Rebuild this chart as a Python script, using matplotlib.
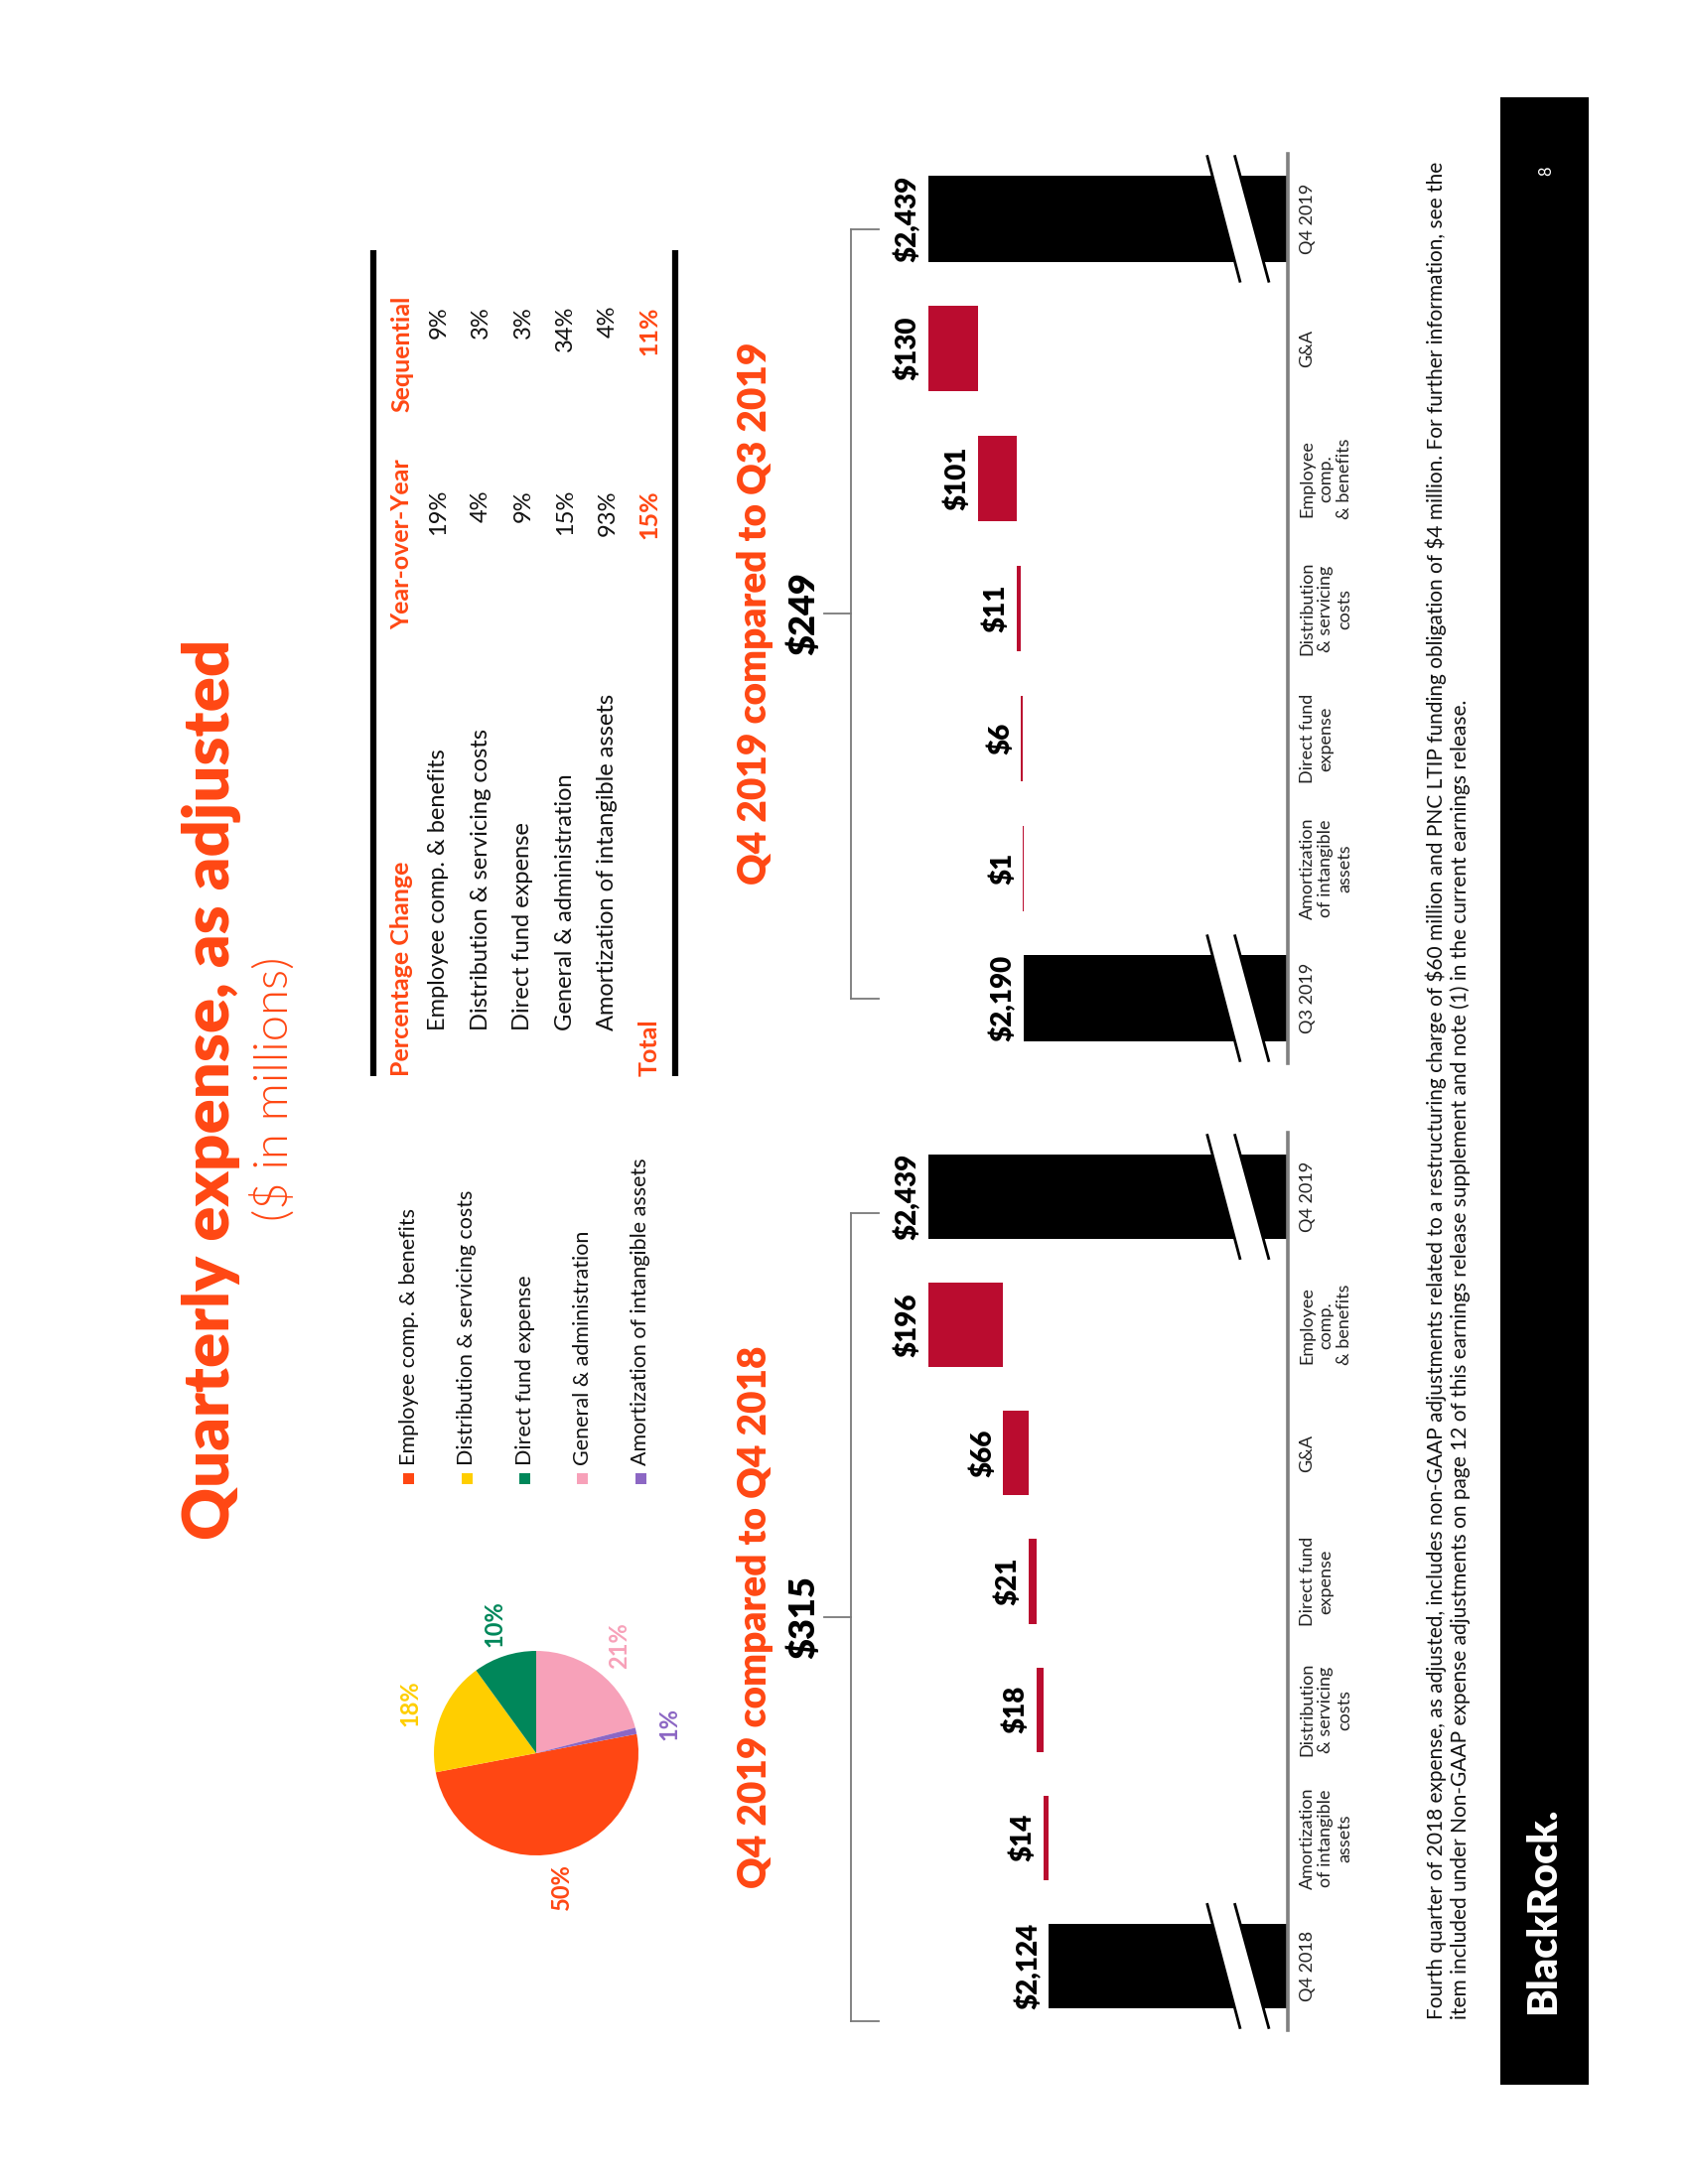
import numpy as np
import matplotlib
matplotlib.use("Agg")
import matplotlib.pyplot as plt
from matplotlib import font_manager
from matplotlib.patches import Rectangle, Polygon

installed = {f.name for f in font_manager.fontManager.ttflist}
BODY = "Lato" if "Lato" in installed else "DejaVu Sans"
plt.rcParams["font.family"] = [BODY, "DejaVu Sans"]

ORANGE = "#FF4713"
RED = "#BA0C2F"
GREY = "#808080"

# ---- data ----
categories = ["Employee comp. & benefits", "Distribution & servicing costs",
              "Direct fund expense", "General & administration",
              "Amortization of intangible assets"]
pie_share = [50, 18, 10, 21, 1]
pie_colors = ["#FF4713", "#FFCE00", "#00875A", "#F7A1B9", "#8C67C4"]

yoy = ["19%", "4%", "9%", "15%", "93%"]
seq = ["9%", "3%", "3%", "34%", "4%"]
yoy_total = "15%"
seq_total = "11%"

wf1_labels = ["Q4 2018", "Amortization\nof intangible\nassets", "Distribution\n& servicing\ncosts",
              "Direct fund\nexpense", "G&A", "Employee\ncomp.\n& benefits", "Q4 2019"]
wf1_start, wf1_end = 2124, 2439
wf1_steps = [14, 18, 21, 66, 196]
wf1_change = 315

wf2_labels = ["Q3 2019", "Amortization\nof intangible\nassets", "Direct fund\nexpense",
              "Distribution\n& servicing\ncosts", "Employee\ncomp.\n& benefits", "G&A", "Q4 2019"]
wf2_start, wf2_end = 2190, 2439
wf2_steps = [1, 6, 11, 101, 130]
wf2_change = 249

footnote = ("Fourth quarter of 2018 expense, as adjusted, includes non-GAAP adjustments related to a restructuring "
            "charge of $60 million and PNC LTIP funding obligation of $4 million. For further information, see the\n"
            "item included under Non-GAAP expense adjustments on page 12 of this earnings release supplement and "
            "note (1) in the current earnings release.")

W, H = 1700, 2200
fig = plt.figure(figsize=(17, 22), dpi=100)
fig.patch.set_facecolor("white")

# page axes in pixel coordinates (y down) for the slide furniture
page = fig.add_axes([0, 0, 1, 1])
page.set_xlim(0, W)
page.set_ylim(H, 0)
page.axis("off")


def vtext(x, y, s, **kw):
    return page.text(x, y, s, rotation=90, parse_math=False, **kw)


# title
vtext(213, 1097, "Quarterly expense, as adjusted", ha="center", va="center",
      fontsize=47, fontweight="heavy", color=ORANGE)
vtext(275, 1097, "($ in millions)", ha="center", va="center",
      fontsize=34, fontweight=300, color=ORANGE)

# pie
ax_pie = fig.add_axes([(540 - 103) / W, 1 - (1766 + 103) / H, 206 / W, 206 / H])
wedges, texts = ax_pie.pie(pie_share, colors=pie_colors, startangle=10.8, counterclock=False,
                           labels=[f"{v}%" for v in pie_share], labeldistance=1.33,
                           wedgeprops=dict(linewidth=0),
                           textprops=dict(rotation=90, fontsize=17, fontweight="bold"))
for t, c in zip(texts, pie_colors):
    t.set_color(c)
    t.set_ha("center")
    t.set_va("center")
ax_pie.set_xlim(-1, 1)
ax_pie.set_ylim(-1, 1)
ax_pie.set_aspect("equal")

# pie legend
for i, (cat, col) in enumerate(zip(categories, pie_colors)):
    x = 412 + i * 58.3
    page.add_patch(Rectangle((x - 5.5, 1484), 11, 11, color=col, lw=0))
    vtext(x, 1476, cat, ha="center", va="bottom", fontsize=15.5, color="#111111")

# percentage change table
page.plot([376, 376], [252, 1084], color="black", lw=4.5, solid_capstyle="butt")
page.plot([680, 680], [252, 1084], color="black", lw=4.5, solid_capstyle="butt")
hdr = dict(ha="center", fontweight="bold", color=ORANGE, fontsize=18)
vtext(405, 1084, "Percentage Change", va="bottom", **hdr)
vtext(405, 462, "Year-over-Year", va="top", **hdr)
vtext(405, 298, "Sequential", va="top", **hdr)
for i, cat in enumerate(categories):
    x = 442 + i * 42.5
    vtext(x, 1038, cat, ha="center", va="bottom", fontsize=17, color="#111111")
    vtext(x, 493, yoy[i], ha="center", va="top", fontsize=17, color="#111111")
    vtext(x, 308, seq[i], ha="center", va="top", fontsize=17, color="#111111")
vtext(654, 1084, "Total", va="bottom", **hdr)
vtext(654, 493, yoy_total, va="top", **hdr)
vtext(654, 308, seq_total, va="top", **hdr)


def waterfall(rect, labels, start, steps, end, change, title, br_lo, br_hi):
    ax = fig.add_axes(rect)
    n = len(labels)
    pos = np.arange(n)
    cum = start + np.concatenate([[0], np.cumsum(steps)])
    bw = 0.66
    ax.barh([pos[0], pos[-1]], [start, end], height=bw, color="black")
    ax.barh(pos[1:-1], steps, left=cum[:-1], height=bw, color=RED)
    ax.set_xlim(2500, 1500)
    ax.set_ylim(-0.5, n - 0.5)
    for s in ["top", "bottom", "left"]:
        ax.spines[s].set_visible(False)
    ax.spines["right"].set_color(GREY)
    ax.spines["right"].set_linewidth(2.6)
    ax.set_xticks([])
    ax.set_yticks([])
    ax.patch.set_alpha(0)

    tops = list(cum[:-1] + np.array(steps))
    vals = [start] + list(steps) + [end]
    ends = [start] + tops + [end]
    for p, v, e in zip(pos, vals, ends):
        ax.annotate(f"${v:,}", xy=(e, p), xytext=(-5, 0), textcoords="offset points",
                    rotation=90, ha="right", va="center", fontsize=20, fontweight="heavy")

    tr = ax.get_yaxis_transform()
    for p, lab in zip(pos, labels):
        ax.text(1.03, p, lab, transform=tr, rotation=90, ha="left", va="center",
                multialignment="center", fontsize=13, linespacing=1.22, color="#222222")

    # axis break marks on the total bars
    for p in [pos[0], pos[-1]]:
        a, b = p + 0.48, p - 0.48
        ax.add_patch(Polygon([(0.79, a), (0.862, a), (0.95, b), (0.875, b)], closed=True,
                             transform=tr, facecolor="white", edgecolor="none", clip_on=False))
        ax.plot([0.79, 0.875], [a, b], transform=tr, color="black", lw=2, clip_on=False)
        ax.plot([0.862, 0.95], [a, b], transform=tr, color="black", lw=2, clip_on=False)

    # bracket
    mid = (br_lo + br_hi) / 2
    bk = dict(transform=tr, color="#7a7a7a", lw=1.3, clip_on=False)
    ax.plot([-0.14, -0.14], [br_lo, br_hi], **bk)
    ax.plot([-0.14, -0.067], [br_lo, br_lo], **bk)
    ax.plot([-0.14, -0.067], [br_hi, br_hi], **bk)
    ax.plot([-0.21, -0.14], [mid, mid], **bk)
    ax.text(-0.262, mid, f"${change}", transform=tr, rotation=90, ha="center", va="center",
            fontsize=26, fontweight="heavy")
    ax.text(-0.391, mid, title, transform=tr, rotation=90, ha="center", va="center",
            fontsize=28, fontweight="heavy", color=ORANGE)
    return ax


waterfall([911 / W, 1 - 2045 / H, 386 / W, 904 / H], wf1_labels, wf1_start, wf1_steps, wf1_end,
          wf1_change, "Q4 2019 compared to Q4 2018", -0.43, 5.87)
waterfall([911 / W, 1 - 1071 / H, 386 / W, 916 / H], wf2_labels, wf2_start, wf2_steps, wf2_end,
          wf2_change, "Q4 2019 compared to Q3 2019", 0.0, 5.92)

# footnote
vtext(1436, 2034, footnote, ha="left", va="bottom", fontsize=15, linespacing=1.15,
      multialignment="left", color="#111111")

# footer band
page.add_patch(Rectangle((1511, 98), 89, 2002, color="black", lw=0))
vtext(1557, 172, "8", ha="center", va="center", fontsize=12, color="white")
vtext(1554, 1925, "BlackRock.", ha="center", va="center", fontsize=30, fontweight="heavy", color="white")

fig.savefig("out.png", dpi=100, facecolor="white")
